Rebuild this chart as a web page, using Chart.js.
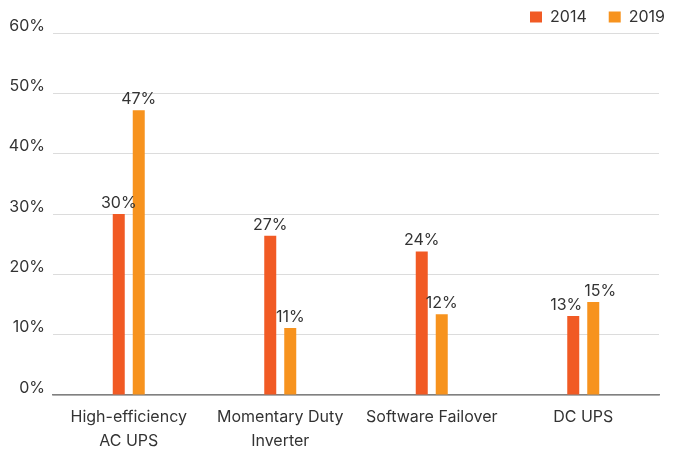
<!DOCTYPE html>
<html>
<head>
<meta charset="utf-8">
<script src="https://cdn.jsdelivr.net/npm/chart.js@4"></script>
<style>
  html, body { margin: 0; padding: 0; background: #fff; }
  #wrap { width: 673px; height: 455px; }
</style>
</head>
<body>
<div id="wrap"><canvas id="upsChart" width="673" height="455"></canvas></div>
<script>
var categories = [['High-efficiency', 'AC UPS'], ['Momentary Duty', 'Inverter'], 'Software Failover', 'DC UPS'];
var values2014 = [30, 26.4, 23.8, 13.1];
var values2019 = [47.2, 11.1, 13.4, 15.4];
var labels2014 = ['30%', '27%', '24%', '13%'];
var labels2019 = ['47%', '11%', '12%', '15%'];
var yTicks = [0, 10, 20, 30, 40, 50, 60];

var textColor = '#333333';
var fontFamily = 'Inter, "Open Sans", sans-serif';

// draws the percentage above each bar, pushing apart neighbours that would touch
var barLabels = {
    id: 'barLabels',
    afterDatasetsDraw: function(chart) {
        var ctx = chart.ctx;
        var texts = [labels2014, labels2019];
        var m0 = chart.getDatasetMeta(0), m1 = chart.getDatasetMeta(1);
        ctx.save();
        ctx.font = '16px ' + fontFamily;
        ctx.fillStyle = textColor;
        ctx.textAlign = 'center';
        ctx.textBaseline = 'alphabetic';
        for (var j = 0; j < categories.length; j++) {
            var a = m0.data[j], b = m1.data[j];
            var wa = ctx.measureText(texts[0][j]).width;
            var wb = ctx.measureText(texts[1][j]).width;
            var xa = a.x, xb = b.x;
            var overlap = (xa + wa / 2) - (xb - wb / 2) + 2;
            if (overlap > 0 && Math.abs(a.y - b.y) < 18) {
                xa -= overlap / 2;
                xb += overlap / 2;
            }
            ctx.fillText(texts[0][j], xa, a.y - 6);
            ctx.fillText(texts[1][j], xb, b.y - 6);
        }
        ctx.restore();
    }
};

// keeps the legend high and pulled to the right edge like the original
var legendTweak = {
    id: 'legendTweak',
    afterInit: function(chart) {
        var lg = chart.legend;
        var fit = lg.fit;
        lg.fit = function() {
            fit.call(this);
            this.height = 33;
        };
    },
    beforeDraw: function(chart) {
        var lg = chart.legend;
        lg.top -= 13;
        lg.left += 28;
        lg.right += 28;
    }
};

var ctx = document.getElementById('upsChart').getContext('2d');
new Chart(ctx, {
    type: 'bar',
    data: {
        labels: categories,
        datasets: [{
            label: '2014',
            data: values2014,
            backgroundColor: '#f15a24'
        }, {
            label: '2019',
            data: values2019,
            backgroundColor: '#f7931e'
        }]
    },
    options: {
        responsive: false,
        animation: false,
        layout: { padding: { left: 0, right: 14, top: 0, bottom: 0 } },
        datasets: {
            bar: { categoryPercentage: 0.264, barPercentage: 0.6 }
        },
        plugins: {
            legend: {
                position: 'top',
                align: 'end',
                labels: {
                    boxWidth: 12,
                    boxHeight: 11,
                    padding: 22,
                    color: textColor,
                    font: { family: fontFamily, size: 16 }
                }
            },
            tooltip: { enabled: false }
        },
        scales: {
            x: {
                afterFit: function(scale) { scale.height = 60; },
                grid: { display: false, drawTicks: false },
                border: { color: '#808080', width: 1.5 },
                ticks: {
                    color: textColor,
                    padding: 11,
                    maxRotation: 0,
                    font: { family: fontFamily, size: 16, lineHeight: 1.45 }
                }
            },
            y: {
                min: 0,
                max: 60,
                afterFit: function(scale) { scale.width = 53; },
                afterBuildTicks: function(scale) {
                    scale.ticks = yTicks.map(function(v) { return { value: v }; });
                },
                grid: { color: '#dcdcdc', drawTicks: false },
                border: { display: false },
                ticks: {
                    color: textColor,
                    padding: 8,
                    labelOffset: -7,
                    font: { family: fontFamily, size: 16 },
                    callback: function(v) { return v + '%'; }
                }
            }
        }
    },
    plugins: [barLabels, legendTweak]
});
</script>
</body>
</html>
